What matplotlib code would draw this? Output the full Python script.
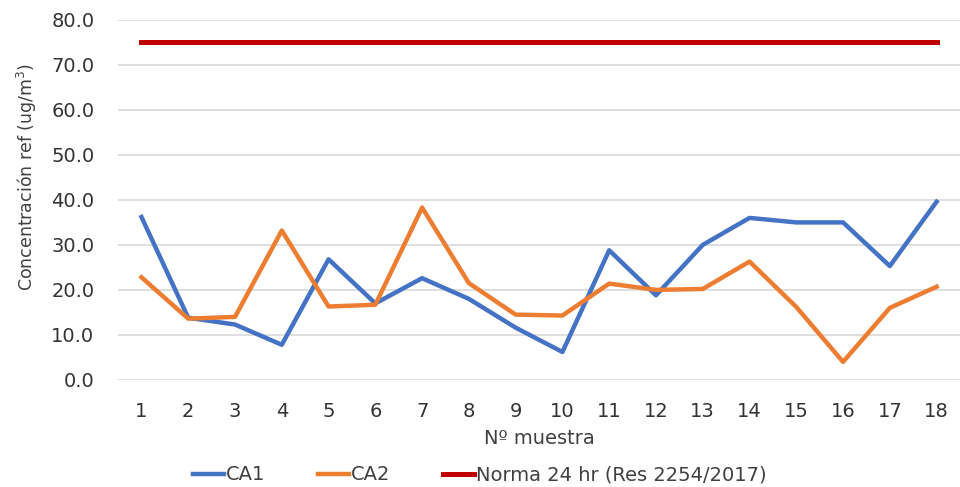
import matplotlib
matplotlib.use("Agg")
import matplotlib.pyplot as plt

muestras = list(range(1, 19))
ca1 = [36.2, 13.8, 12.3, 7.8, 26.8, 17.0, 22.6, 18.0, 11.6, 6.2, 28.8, 18.8, 30.0, 36.0, 35.0, 35.0, 25.3, 39.6]
ca2 = [22.8, 13.6, 14.0, 33.2, 16.3, 16.7, 38.3, 21.5, 14.5, 14.3, 21.4, 20.0, 20.2, 26.3, 16.2, 4.0, 16.0, 20.7]
norma = [75.0] * 18

fig = plt.figure(figsize=(9.6, 4.87), dpi=100)
ax = fig.add_axes([0.123, 0.22, 0.877, 0.739])

ax.plot(muestras, ca1, color="#4472C4", lw=3.2, label="CA1")
ax.plot(muestras, ca2, color="#ED7D31", lw=3.2, label="CA2")
ax.plot(muestras, norma, color="#C00000", lw=3.6, label="Norma 24 hr (Res 2254/2017)")

ax.set_xlim(0.5, 18.5)
ax.set_ylim(0, 80)
ax.set_yticks(range(0, 81, 10))
ax.set_yticklabels([f"{v:.1f}" for v in range(0, 81, 10)])
ax.set_xticks(muestras)
ax.grid(axis="y", color="#d9d9d9", lw=1.2)
ax.set_axisbelow(True)
for s in ax.spines.values():
    s.set_visible(False)
ax.tick_params(length=0, labelsize=14, colors="#333333")
ax.tick_params(axis="y", pad=17)
ax.tick_params(axis="x", pad=16)

ax.set_xlabel("Nº muestra", fontsize=14, color="#404040", labelpad=6)
ax.set_ylabel("Concentración ref (ug/m$^3$)", fontsize=12.5, color="#404040")
ax.yaxis.set_label_coords(-0.094, 0.564)

fig.legend(loc="center", bbox_to_anchor=(0.5, 0.025), ncol=3, frameon=False,
           fontsize=14, handlelength=1.6, handletextpad=0.1, columnspacing=2.7,
           labelcolor="#404040")

fig.savefig("out.png", dpi=100)
